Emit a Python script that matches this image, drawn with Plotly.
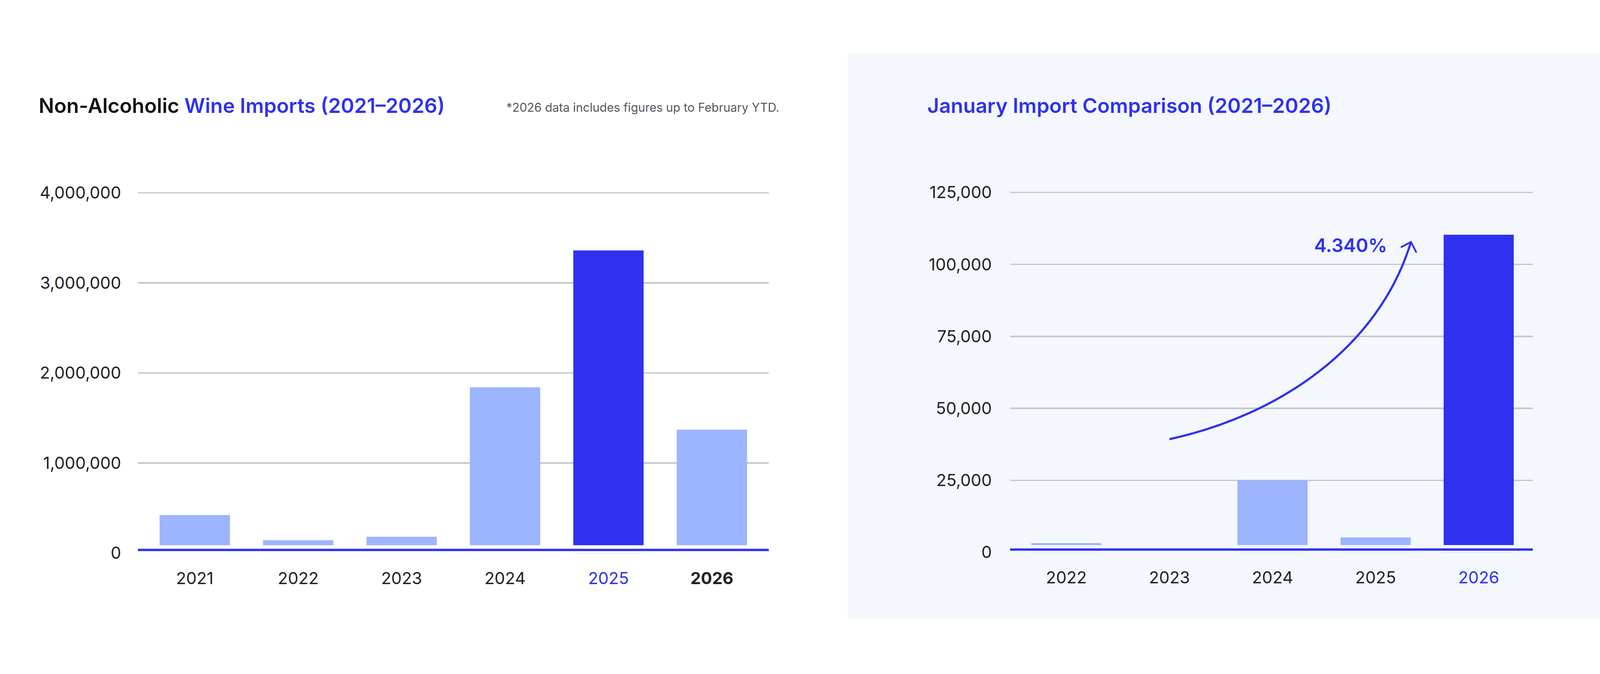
import plotly.graph_objects as go

# ---------------- data ----------------
years_total = ["2021", "2022", "2023", "2024", "2025", "2026"]
imports_total = [422000, 143000, 181000, 1840000, 3360000, 1370000]

years_jan = ["2022", "2023", "2024", "2025", "2026"]
imports_jan = [3200, 0, 25000, 5200, 110300]

left_ticks = [0, 1000000, 2000000, 3000000, 4000000]
right_ticks = [0, 25000, 50000, 75000, 100000, 125000]

growth_label = "4.340%"

# ---------------- style ----------------
W, H = 4221, 1725
BLUE = "#2E31F0"
LIGHT = "#9DB4FE"
GRID = "#C3C5CC"
TXT = "#222226"
PANEL = "#F4F7FE"
FONT = "Inter"


def px(x):
    return x / W


def py(y):
    return 1 - y / H


left_colors = [LIGHT, LIGHT, LIGHT, LIGHT, BLUE, LIGHT]
right_colors = [LIGHT, LIGHT, LIGHT, LIGHT, BLUE]

left_text = list(years_total)
left_text[4] = f"<span style='color:{BLUE}'>{years_total[4]}</span>"
left_text[5] = f"<b>{years_total[5]}</b>"
right_text = list(years_jan)
right_text[4] = f"<span style='color:{BLUE}'>{years_jan[4]}</span>"

fig = go.Figure()
fig.add_trace(go.Bar(x=list(range(len(years_total))), y=imports_total,
                     marker=dict(color=left_colors, line=dict(width=0)),
                     xaxis="x", yaxis="y", hoverinfo="skip", showlegend=False))
fig.add_trace(go.Bar(x=list(range(len(years_jan))), y=imports_jan,
                     marker=dict(color=right_colors, line=dict(width=0)),
                     xaxis="x2", yaxis="y2", hoverinfo="skip", showlegend=False))

axis_font = dict(family=FONT, size=42.5, color=TXT)

fig.update_layout(
    width=W, height=H,
    margin=dict(l=0, r=0, t=0, b=0),
    paper_bgcolor="white", plot_bgcolor="rgba(0,0,0,0)",
    bargap=0.32,
    xaxis=dict(domain=[px(353), px(1968)], range=[-0.55, len(years_total) - 0.45],
               tickvals=list(range(len(years_total))), ticktext=left_text,
               showgrid=False, zeroline=False, showline=False, ticks="",
               tickfont=axis_font, ticklabelstandoff=36, anchor="y", fixedrange=True),
    yaxis=dict(domain=[py(1433), py(477.5)], range=[0, 4040000],
               tickvals=left_ticks, tickformat=",d",
               showgrid=True, gridcolor=GRID, gridwidth=3.5,
               zeroline=False, showline=False, ticks="",
               tickfont=axis_font, ticklabelstandoff=42, anchor="x"),
    xaxis2=dict(domain=[px(2586), px(3924)], range=[-0.545, len(years_jan) - 0.475],
                tickvals=list(range(len(years_jan))), ticktext=right_text,
                showgrid=False, zeroline=False, showline=False, ticks="",
                tickfont=axis_font, ticklabelstandoff=36, anchor="y2"),
    yaxis2=dict(domain=[py(1431), py(478.4)], range=[0, 126000],
                tickvals=right_ticks, tickformat=",d",
                showgrid=True, gridcolor=GRID, gridwidth=3.5,
                zeroline=False, showline=False, ticks="",
                tickfont=axis_font, ticklabelstandoff=46, anchor="x2"),
)

shapes = [
    # right panel background
    dict(type="rect", xref="paper", yref="paper", x0=px(2170), x1=px(4124),
         y0=py(1604), y1=py(121), fillcolor=PANEL, line=dict(width=0), layer="below"),
    # gap between bars and baseline (left)
    dict(type="rect", xref="x domain", yref="y", ysizemode="pixel", yanchor=0,
         x0=0, x1=1, y0=-8, y1=20, fillcolor="white", line=dict(width=0), layer="above"),
    dict(type="line", xref="x domain", yref="y", ysizemode="pixel", yanchor=0,
         x0=0, x1=1, y0=8, y1=8, line=dict(color=BLUE, width=6), layer="above"),
    # gap between bars and baseline (right)
    dict(type="rect", xref="x2 domain", yref="y2", ysizemode="pixel", yanchor=0,
         x0=0, x1=1, y0=-8, y1=18.5, fillcolor=PANEL, line=dict(width=0), layer="above"),
    dict(type="line", xref="x2 domain", yref="y2", ysizemode="pixel", yanchor=0,
         x0=0, x1=1, y0=7, y1=7, line=dict(color=BLUE, width=6), layer="above"),
    # growth arrow
    dict(type="path", xref="x2", yref="y2",
         path="M 1.0,39300 C 2.063,47540 3.030,71060 3.343,107800",
         line=dict(color=BLUE, width=5.5), layer="above"),
    dict(type="path", xref="x2", yref="y2",
         path="M 3.244,105950 L 3.343,107800 L 3.396,104100",
         line=dict(color=BLUE, width=4.5), layer="above"),
]
fig.update_layout(shapes=shapes)

annotations = [
    dict(text=f"<span style='color:#111114'>Non-Alcoholic</span> "
              f"<span style='color:{BLUE}'>Wine Imports (2021–2026)</span>",
         xref="paper", yref="paper", x=px(97), y=py(258), xanchor="left", yanchor="middle",
         showarrow=False, font=dict(family=FONT, size=52, weight=600)),
    dict(text="*2026 data includes figures up to February YTD.",
         xref="paper", yref="paper", x=px(1294), y=py(262), xanchor="left", yanchor="middle",
         showarrow=False, font=dict(family=FONT, size=30.5, color="#55565E")),
    dict(text="January Import Comparison (2021–2026)",
         xref="paper", yref="paper", x=px(2372), y=py(258), xanchor="left", yanchor="middle",
         showarrow=False, font=dict(family=FONT, size=52, weight=600, color=BLUE)),
    dict(text=growth_label, xref="paper", yref="paper", x=px(3553), y=py(624),
         xanchor="right", yanchor="middle", showarrow=False,
         font=dict(family=FONT, size=48, weight=600, color=BLUE)),
]
fig.update_layout(annotations=annotations)

fig.write_html("out.html",
               config={"displayModeBar": False, "staticPlot": True},
               post_script="document.body.style.margin='0px';document.body.style.overflow='hidden';")
